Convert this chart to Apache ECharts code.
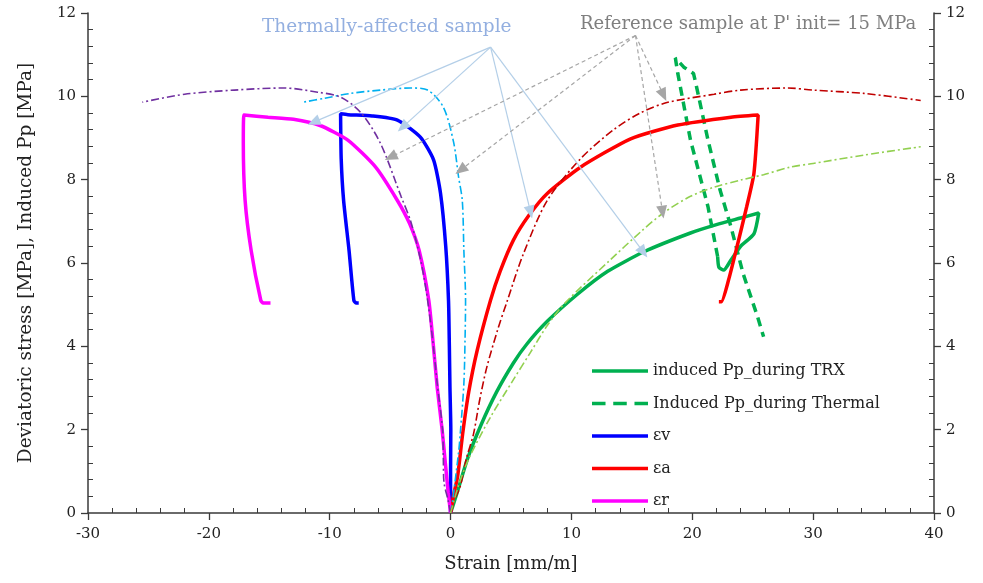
<!DOCTYPE html>
<html>
<head>
<meta charset="utf-8">
<script src="https://cdn.jsdelivr.net/npm/echarts@6/dist/echarts.min.js"></script>
<style>
  html, body { margin: 0; padding: 0; background: #fff; }
  #main { width: 983px; height: 583px; }
</style>
</head>
<body>
<div id="main"></div>
<script>
// thermally-affected sample (thick lines)
var ppTrx = [[0,0],[0.5,0.45],[1.4,1.3],[2.5,2.1],[3.8,2.9],[5.2,3.6],[6.3,4.05],[8,4.6],[10.5,5.25],[13,5.8],[16,6.27],[19.85,6.72],[22,6.92],[24,7.08],[25.5,7.2],[25.1,6.7],[24,6.4],[23.2,6.07],[22.6,5.83],[22.2,5.9],[22.1,6.15]];
var ppThermal = [[22.1,6.15],[21.3,7.35],[19.85,8.95],[18.8,10.55],[18.6,10.92],[19.3,10.7],[20.1,10.55],[20.3,10.3],[21.3,8.95],[22.3,7.75],[23.2,6.87],[24.2,5.75],[25.4,4.71],[25.9,4.23]];
var epsV = [[0,0],[0,1],[0.02,2],[-0.05,3],[-0.1,4],[-0.17,5.1],[-0.4,6.4],[-0.83,7.67],[-1.4,8.47],[-2.5,9.02],[-4.4,9.43],[-6.5,9.53],[-8.5,9.56],[-9.1,9.58],[-9.05,8.5],[-8.85,7.5],[-8.4,6.3],[-8.0,5.1],[-7.8,5.04],[-7.6,5.04]];
var epsA = [[0,0],[0.3,0.5],[0.58,0.87],[1.0,1.9],[1.5,2.9],[2.2,3.9],[3.3,5.1],[4.1,5.8],[5.2,6.55],[6.5,7.15],[8,7.67],[10.75,8.3],[14.9,8.98],[18.8,9.31],[23.2,9.5],[25.45,9.55],[25.1,8.15],[24.5,7.35],[23.7,6.39],[23.0,5.59],[22.4,5.07],[22.2,5.07]];
var epsR = [[0,0],[-0.2,0.5],[-0.4,1.1],[-0.7,2],[-1.1,3],[-1.45,4.1],[-1.8,5.1],[-2.6,6.3],[-3.4,6.95],[-4.4,7.5],[-6.2,8.3],[-8.5,8.95],[-10.8,9.3],[-13,9.45],[-15.1,9.5],[-17.1,9.55],[-17.15,8.9],[-17.0,7.5],[-16.5,6.3],[-15.7,5.1],[-15.5,5.04],[-14.9,5.04]];

// reference sample at P' init = 15 MPa (thin dash-dot lines)
var refV = [[0,0],[0.17,0.3],[0.66,1.45],[0.8,1.9],[1.1,3.1],[1.2,4.2],[1.24,5.1],[1.1,6.3],[0.97,7.5],[0.66,8.07],[0.25,8.9],[-0.6,9.74],[-1.9,10.15],[-3.3,10.2],[-5.8,10.15],[-8.3,10.07],[-10.5,9.95],[-12.2,9.86]];
var refR = [[0,0],[-0.2,0.3],[-0.55,0.75],[-0.6,1.3],[-0.66,2],[-1.1,3.1],[-1.5,4.2],[-2.0,5.3],[-2.5,6.1],[-3.3,7.0],[-4.1,7.6],[-5.8,8.87],[-7.4,9.6],[-9.1,9.98],[-11,10.1],[-13.8,10.2],[-17.9,10.15],[-22,10.05],[-25.5,9.86]];
var refA = [[0,0],[0.3,0.3],[0.8,0.64],[1.3,1.3],[1.9,1.9],[2.4,2.7],[3.0,3.5],[3.9,4.4],[4.7,5.1],[6.0,6.2],[8,7.5],[10.75,8.5],[13.5,9.2],[15.7,9.6],[17.9,9.85],[21.8,10.05],[24,10.15],[27.9,10.2],[30,10.15],[34.2,10.07],[38.9,9.9]];
var refPp = [[0,0],[0.64,0.64],[1.5,1.3],[3.3,2.3],[5.2,3.2],[6.6,3.85],[8,4.5],[9.5,5.05],[13.2,6.07],[15.7,6.74],[17.6,7.2],[19.85,7.6],[21.8,7.82],[24,7.99],[25.9,8.12],[28.1,8.3],[30,8.39],[34.2,8.59],[38.9,8.79]];

// annotation arrows: [start, tip] in data units
var blueArrowFrom = [3.31, 11.18];
var blueArrowTo = [[-11.33, 9.38], [-3.97, 9.26], [6.62, 7.22], [15.96, 6.26]];
var greyArrowFrom = [15.3, 11.46];
var greyArrowTo = [[-4.96, 8.54], [0.83, 8.23], [17.62, 10.03], [17.54, 7.22]];

var serif = 'DejaVu Serif';
var myChart = echarts.init(document.getElementById('main'));

function thick(name, data, color, dash) {
    return {
        name: name, type: 'line', data: data, symbol: 'none',
        smooth: dash ? false : 0.2,
        animation: false, z: 2,
        lineStyle: { color: color, width: 3.5, type: dash || 'solid' },
        itemStyle: { color: color }
    };
}
function thin(data, color) {
    return {
        type: 'line', data: data, symbol: 'none', smooth: 0.3, animation: false, z: 3,
        lineStyle: { color: color, width: 1.6, type: [8, 3, 2, 3] }
    };
}
function arrows(from, to, color, type) {
    return to.map(function (t) {
        return [{ coord: from, lineStyle: { color: color, type: type, width: 1.2 } }, { coord: t }];
    });
}

var yAxisBase = {
    type: 'value', min: 0, max: 12, interval: 2,
    axisLine: { show: true, onZero: false, lineStyle: { color: '#3a3a3a', width: 1.5 } },
    axisTick: { show: true, length: 7, lineStyle: { color: '#3a3a3a', width: 1.3 } },
    minorTick: { show: true, splitNumber: 5, length: -5, lineStyle: { color: '#3a3a3a', width: 1 } },
    splitLine: { show: false },
    axisLabel: { color: '#222', fontFamily: serif, fontSize: 15, margin: 12 }
};

var solidIcon = 'path://M0,0H58V3.5H0Z';
var dashIcon = 'path://M0,0H14V3.5H0Z M22,0H36V3.5H22Z M44,0H58V3.5H44Z';

var option = {
    backgroundColor: '#fff',
    grid: { left: 88, right: 49, top: 13, bottom: 70 },
    xAxis: {
        type: 'value', min: -30, max: 40, interval: 10,
        name: 'Strain [mm/m]', nameLocation: 'middle', nameGap: 42,
        nameTextStyle: { color: '#222', fontFamily: serif, fontSize: 18 },
        axisLine: { onZero: false, lineStyle: { color: '#3a3a3a', width: 1.5 } },
        axisTick: { length: 7, lineStyle: { color: '#3a3a3a', width: 1.3 } },
        minorTick: { show: true, splitNumber: 5, length: -5, lineStyle: { color: '#3a3a3a', width: 1 } },
        splitLine: { show: false },
        axisLabel: { color: '#222', fontFamily: serif, fontSize: 15, margin: 14 }
    },
    yAxis: [
        Object.assign({}, yAxisBase, {
            position: 'left',
            name: 'Deviatoric stress [MPa], Induced Pp [MPa]', nameLocation: 'middle', nameGap: 52,
            nameTextStyle: { color: '#222', fontFamily: serif, fontSize: 18.5 }
        }),
        Object.assign({}, yAxisBase, { position: 'right' })
    ],
    legend: {
        orient: 'vertical', left: 587, top: 358,
        itemWidth: 56, itemHeight: 14, itemGap: 16.5,
        textStyle: { color: '#222', fontFamily: serif, fontSize: 16 },
        data: [
            { name: 'induced Pp_during TRX', icon: solidIcon },
            { name: 'Induced Pp_during Thermal', icon: dashIcon },
            { name: 'εv', icon: solidIcon },
            { name: 'εa', icon: solidIcon },
            { name: 'εr', icon: solidIcon }
        ]
    },
    graphic: [
        { type: 'text', left: 262, top: 18, style: { text: 'Thermally-affected sample', fill: '#93afe0', font: '18.5px "DejaVu Serif"' } },
        { type: 'text', left: 580, top: 15, style: { text: "Reference sample at P' init= 15 MPa", fill: '#7f7f7f', font: '18px "DejaVu Serif"' } }
    ],
    series: [
        thick('induced Pp_during TRX', ppTrx, '#00b050'),
        thick('Induced Pp_during Thermal', ppThermal, '#00b050', [9, 6]),
        thick('εv', epsV, '#0000ff'),
        thick('εa', epsA, '#ff0000'),
        thick('εr', epsR, '#ff00ff'),
        thin(refV, '#00b0f0'),
        thin(refR, '#7030a0'),
        thin(refA, '#c00000'),
        thin(refPp, '#92d050'),
        {
            type: 'line', data: [], animation: false, z: 1,
            markLine: {
                silent: true, animation: false,
                symbol: ['none', 'triangle'], symbolSize: [11, 13],
                label: { show: false },
                data: arrows(blueArrowFrom, blueArrowTo, '#b4cfe8', 'solid')
                    .concat(arrows(greyArrowFrom, greyArrowTo, '#a6a6a6', [4, 3]))
            }
        }
    ]
};
myChart.setOption(option);
</script>
</body>
</html>
